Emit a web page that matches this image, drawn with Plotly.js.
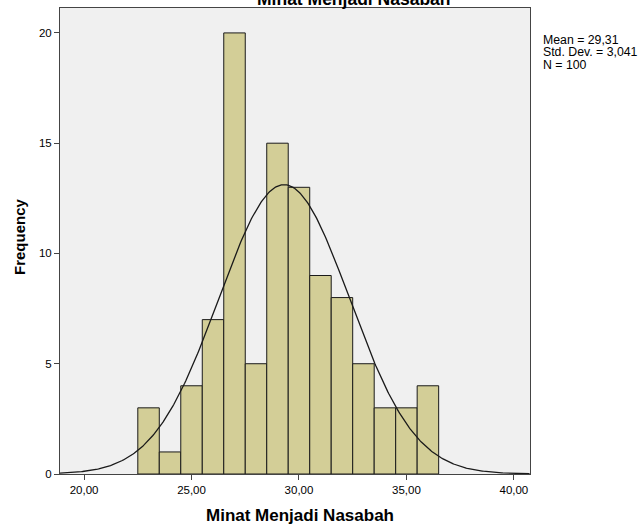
<!DOCTYPE html>
<html>
<head>
<meta charset="utf-8">
<script src="https://cdn.plot.ly/plotly-3.0.1.min.js"></script>
<style>html,body{margin:0;padding:0;background:#fff;}#chart{width:644px;height:528px;}</style>
</head>
<body>
<div id="chart"></div>
<script>
// Bin centres (bin width 1) and frequencies
const binCenters = [23, 24, 25, 26, 27, 28, 29, 30, 31, 32, 33, 34, 35, 36];
const frequencies = [3, 1, 4, 7, 20, 5, 15, 13, 9, 8, 5, 3, 3, 4];
const meanValue = 29.31;
const stdDev = 3.041;
const nValue = 100;
const binWidth = 1;
const xTickVals = [20, 25, 30, 35, 40];
const yTickVals = [0, 5, 10, 15, 20];
const statLines = ['Mean = 29,31', 'Std. Dev. = 3,041', 'N = 100'];

// Normal curve implied by the stated mean / std. dev. / N
const curveX = [];
const curveY = [];
for (let x = 18.88; x <= 40.75; x += 0.05) {
  curveX.push(x);
  const z = (x - meanValue) / stdDev;
  curveY.push(nValue * binWidth * Math.exp(-0.5 * z * z) / (stdDev * Math.sqrt(2 * Math.PI)));
}

const traces = [
  {
    type: 'bar',
    x: binCenters,
    y: frequencies,
    width: binWidth,
    marker: {color: '#D3CE97', line: {color: '#1a1a1a', width: 1}},
    hoverinfo: 'x+y'
  },
  {
    type: 'scatter',
    mode: 'lines',
    x: curveX,
    y: curveY,
    line: {color: '#1a1a1a', width: 1.3},
    hoverinfo: 'skip'
  }
];

// plot area in pixels: left 60, right 530, top 8, bottom 474
const pxX = p => (p - 60) / 470;
const pxY = p => (474 - p) / 466;

const statAnnotations = statLines.map((t, i) => ({
  xref: 'paper', yref: 'paper',
  x: pxX(541), y: pxY(40 + i * 12.5),
  xanchor: 'left', yanchor: 'middle',
  text: t,
  showarrow: false,
  font: {size: 12.3, color: '#000'}
}));

const layout = {
  width: 644,
  height: 528,
  margin: {l: 60, r: 114, t: 8, b: 54},
  paper_bgcolor: '#ffffff',
  plot_bgcolor: '#F0F0F0',
  showlegend: false,
  separators: ',.',
  font: {family: 'Liberation Sans, Arial, sans-serif', color: '#000', size: 11},
  xaxis: {
    range: [18.88, 40.75],
    tickvals: xTickVals,
    tickformat: '.2f',
    ticks: 'outside',
    ticklen: 5,
    tickcolor: '#444',
    showline: true,
    linecolor: '#444',
    linewidth: 1,
    mirror: true,
    showgrid: false,
    zeroline: false,
    tickfont: {size: 11.5, color: '#000'}
  },
  yaxis: {
    range: [0, 21.13],
    tickvals: yTickVals,
    ticks: 'outside',
    ticklen: 5,
    tickcolor: '#444',
    showline: true,
    linecolor: '#444',
    linewidth: 1,
    mirror: true,
    showgrid: false,
    zeroline: false,
    tickfont: {size: 11.5, color: '#000'}
  },
  bargap: 0,
  annotations: [
    {
      xref: 'paper', yref: 'paper',
      x: pxX(354), y: pxY(-1),
      xanchor: 'center', yanchor: 'middle',
      text: '<b>Minat Menjadi Nasabah</b>',
      showarrow: false,
      font: {size: 17.5, color: '#000'}
    },
    {
      xref: 'paper', yref: 'paper',
      x: pxX(299.5), y: pxY(515),
      xanchor: 'center', yanchor: 'middle',
      text: '<b>Minat Menjadi Nasabah</b>',
      showarrow: false,
      font: {size: 17, color: '#000'}
    },
    {
      xref: 'paper', yref: 'paper',
      x: pxX(19), y: pxY(237),
      xanchor: 'center', yanchor: 'middle',
      textangle: -90,
      text: '<b>Frequency</b>',
      showarrow: false,
      font: {size: 15, color: '#000'}
    }
  ].concat(statAnnotations)
};

Plotly.newPlot('chart', traces, layout, {displayModeBar: false, staticPlot: true});
</script>
</body>
</html>
